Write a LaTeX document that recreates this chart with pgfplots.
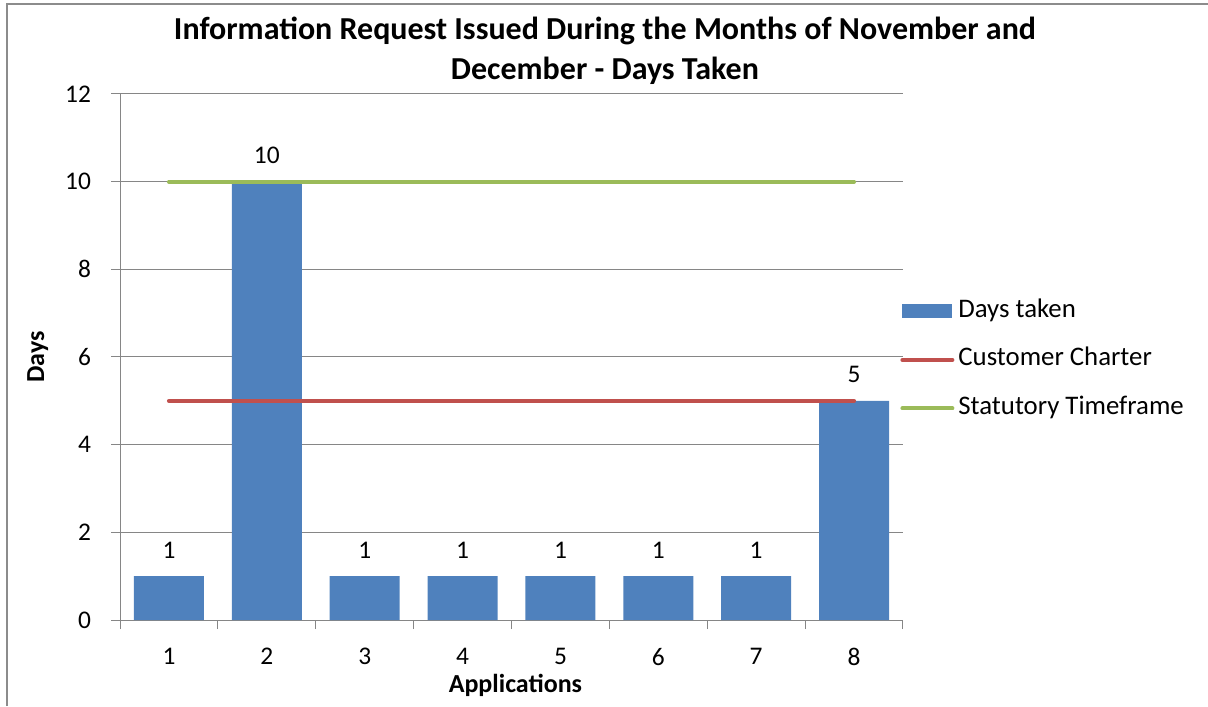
\documentclass[border=0pt]{standalone}
\usepackage{fontspec}
\setmainfont{Carlito}
\usepackage{pgfplots}
\pgfplotsset{compat=1.18}
\definecolor{barblue}{HTML}{4F81BD}
\definecolor{chartred}{HTML}{C0504D}
\definecolor{chartgreen}{HTML}{9BBB59}
\definecolor{axisgray}{HTML}{868686}
\definecolor{framegray}{HTML}{8C8C8C}
\begin{document}
\begin{tikzpicture}
\path[use as bounding box] (0,0) rectangle (604pt,353pt);
\draw[framegray, line width=1pt] (3.25pt,0) -- (3.25pt,350.75pt) -- (604pt,350.75pt);
\node[font=\bfseries\fontsize{16}{19}\selectfont, anchor=base, inner sep=0pt] at (302.5pt,333pt) {Information Request Issued During the Months of November and};
\node[font=\bfseries\fontsize{16}{19}\selectfont, anchor=base, inner sep=0pt] at (302.5pt,313pt) {December - Days Taken};
\begin{axis}[
  at={(60pt,43pt)}, anchor=south west,
  width=391.5pt, height=263pt, scale only axis,
  xmin=0.5, xmax=8.5, ymin=0, ymax=12,
  ytick={0,2,...,12},
  xtick={1,...,8},
  axis lines*=left,
  ymajorgrids, grid style={axisgray, line width=0.5pt},
  axis line style={axisgray, line width=0.5pt},
  tick align=outside, major tick length=4.5pt,
  tick style={axisgray, line width=0.5pt},
  x tick style={draw=none},
  extra x ticks={0.5,1.5,...,8.5},
  extra x tick labels={},
  extra x tick style={x tick style={draw=axisgray}, grid=none},
  tick label style={font=\fontsize{12.7}{15}\selectfont, text=black},
  yticklabel style={xshift=-6.5pt},
  xticklabel style={yshift=-6pt},
  /pgf/number format/assume math mode=true,
  xlabel={Applications}, ylabel={Days},
  label style={font=\bfseries\fontsize{13}{15}\selectfont},
  xlabel style={at={(axis description cs:0.505,-0.125)}, anchor=center},
  ylabel style={at={(axis description cs:-0.105,0.5)}, anchor=center},
  legend style={at={(1,0.5)}, anchor=west, xshift=-1.5pt, yshift=-1.5pt, draw=none, fill=none, inner sep=0pt,
    font=\fontsize{13.4}{15}\selectfont, row sep=12.25pt, column sep=2pt,
    nodes={inner sep=0pt, text height=9pt, text depth=3pt}},
  legend cell align=left,
  clip=false,
]
\addplot[ybar, bar width=35pt, fill=barblue, draw=none,
  nodes near coords,
  every node near coord/.append style={font=\fontsize{12.7}{15}\selectfont, text=black, anchor=south, inner sep=0pt, yshift=8.75pt},
  legend image code/.code={\fill[barblue] (0pt,-3.5pt) rectangle (25pt,3.5pt);}]
  coordinates {(1,1) (2,10) (3,1) (4,1) (5,1) (6,1) (7,1) (8,5)};
\addlegendentry{Days taken}
\addplot[chartred, line width=2pt, line cap=round, mark=none,
  legend image code/.code={\draw[chartred, line width=2pt, line cap=round] (0pt,0pt) -- (25pt,0pt);}]
  coordinates {(1,5) (2,5) (3,5) (4,5) (5,5) (6,5) (7,5) (8,5)};
\addlegendentry{Customer Charter}
\addplot[chartgreen, line width=2pt, line cap=round, mark=none,
  legend image code/.code={\draw[chartgreen, line width=2pt, line cap=round] (0pt,0pt) -- (25pt,0pt);}]
  coordinates {(1,10) (2,10) (3,10) (4,10) (5,10) (6,10) (7,10) (8,10)};
\addlegendentry{Statutory Timeframe}
\end{axis}
\end{tikzpicture}
\end{document}
